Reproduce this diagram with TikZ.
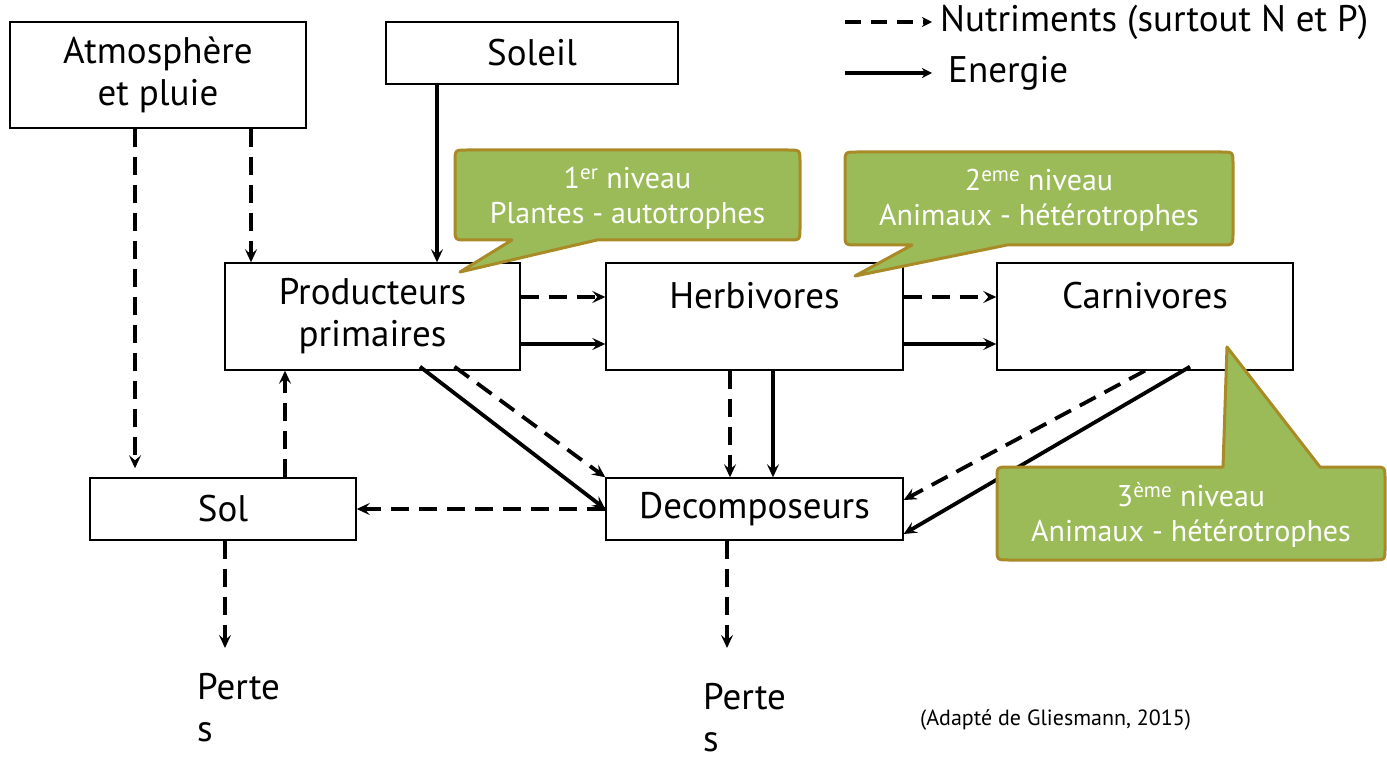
\documentclass[tikz,border=0pt]{standalone}
\usepackage{fontspec}
\setmainfont{PT Sans}
\usetikzlibrary{arrows.meta,calc}
\definecolor{calloutfill}{RGB}{155,187,89}
\definecolor{calloutline}{RGB}{168,138,38}
\tikzset{
  box/.style={draw, line width=1.4pt, inner sep=0pt, align=center,
    font=\fontsize{37}{42}\selectfont},
  flow/.style={line width=3.8pt, -{Stealth[length=13pt,width=12pt,inset=5pt]}},
  nut/.style={flow, dash pattern=on 18pt off 10pt},
  energy/.style={flow},
  callout/.style={fill=calloutfill, draw=calloutline, line width=3pt, line join=round},
  callouttext/.style={text=white, align=center, font=\fontsize{30}{35}\selectfont},
  plain/.style={align=left, inner sep=0pt, font=\fontsize{37}{42}\selectfont},
}
\begin{document}
\begin{tikzpicture}[x=1pt, y=-1pt]
\useasboundingbox (0,0) rectangle (1387,759);

% boxes
\node[box, minimum width=296pt, minimum height=106pt] (atm) at (158,75) {Atmosphère\\et pluie};
\node[box, minimum width=292pt, minimum height=62pt] (sun) at (532,53) {Soleil};
\node[box, minimum width=295pt, minimum height=107pt] (prod) at (372.5,316.5) {Producteurs\\primaires};
\node[box, minimum width=297pt, minimum height=107pt] (herb) at (754.5,316.5) {Herbivores\\\mbox{}};
\node[box, minimum width=296pt, minimum height=107pt] (carn) at (1145,316.5) {Carnivores\\\mbox{}};
\node[box, minimum width=266pt, minimum height=62pt] (sol) at (223,509) {Sol};
\node[box, minimum width=297pt, minimum height=62pt] (dec) at (754.5,509) {Decomposeurs};

% losses
\node[plain, anchor=north west, text depth=0pt] (pertesA) at (197,673) {Perte\\s};
\node[plain, anchor=north west, text depth=0pt] (pertesB) at (703,683) {Perte\\s};

% rows of the horizontal links
\coordinate (rowN) at (0,297);
\coordinate (rowE) at (0,344);

% nutrient flows
\draw[nut, shorten >=9pt] ([xshift=-23pt]atm.south) -- ([xshift=-23pt]atm.south |- sol.north);
\draw[nut] ([xshift=93pt]atm.south) -- ([xshift=93pt]atm.south |- prod.north);
\draw[nut] (prod.east |- rowN) -- (herb.west |- rowN);
\draw[nut] (herb.east |- rowN) -- (carn.west |- rowN);
\draw[nut] ([xshift=82pt,yshift=4pt]prod.south) -- (dec.north west);
\draw[nut] ([xshift=-24.5pt]herb.south) -- ([xshift=-24.5pt]herb.south |- dec.north);
\draw[nut] (carn.south) -- ($(dec.east)+(0,-9)$);
\draw[nut] (dec.west) -- (sol.east);
\draw[nut] ([xshift=62pt]sol.north) -- ([xshift=62pt]sol.north |- prod.south);
\draw[nut] ([xshift=2pt]sol.south) -- ([xshift=2pt]sol.south |- 0,648);
\draw[nut] ([xshift=-27.5pt]dec.south) -- ([xshift=-27.5pt]dec.south |- 0,648);

% energy flows
\draw[energy] ([xshift=-95pt]sun.south) -- ([xshift=-95pt]sun.south |- prod.north);
\draw[energy] (prod.east |- rowE) -- (herb.west |- rowE);
\draw[energy] (herb.east |- rowE) -- (carn.west |- rowE);
\draw[energy] ([xshift=47.5pt,yshift=4pt]prod.south) -- (dec.west);
\draw[energy] ([xshift=18.5pt]herb.south) -- ([xshift=18.5pt]herb.south |- dec.north);
\draw[energy] ([xshift=45pt,yshift=4pt]carn.south) -- ($(dec.east)+(0,25)$);

% legend
\node[plain, anchor=west] (legN) at (940,22) {Nutriments (surtout N et P)};
\node[plain, anchor=west] (legE) at (948,73) {Energie};
\coordinate (legNs) at (845,22);
\coordinate (legEs) at (845,73);
\draw[line width=3.6pt, dash pattern=on 16pt off 10pt, -{Stealth[length=10pt,width=10pt,inset=3pt]}] (legNs) -- ([xshift=-8pt]legN.west);
\draw[line width=3.6pt, -{Stealth[length=10pt,width=10pt,inset=3pt]}] (legEs) -- ([xshift=-16pt]legE.west);

% source
\node[font=\fontsize{22}{26}\selectfont, anchor=west, inner sep=0pt] (src) at (920,720) {(Adapté de Gliesmann, 2015)};

% trophic level callouts
\draw[callout] (512,240) -- (460,272) -- (597,240) -- (788,240) .. controls (800,240) .. (800,228)
  -- (800,162) .. controls (800,150) .. (788,150) -- (467,150) .. controls (455,150) .. (455,162)
  -- (455,228) .. controls (455,240) .. (467,240) -- cycle;
\node[callouttext] (lvl1) at (627.5,198) {1\textsuperscript{er} niveau\\Plantes - autotrophes};

\draw[callout] (912,245) -- (855,276) -- (1007,245) -- (1221,245) .. controls (1233,245) .. (1233,233)
  -- (1233,164) .. controls (1233,152) .. (1221,152) -- (857,152) .. controls (845,152) .. (845,164)
  -- (845,233) .. controls (845,245) .. (857,245) -- cycle;
\node[callouttext] (lvl2) at (1039,200) {2\textsuperscript{eme} niveau\\Animaux - hétérotrophes};

\draw[callout] (1320,467) -- (1227,347) -- (1223,467) -- (1009,467) .. controls (997,467) .. (997,479)
  -- (997,548) .. controls (997,560) .. (1009,560) -- (1373,560) .. controls (1385,560) .. (1385,548)
  -- (1385,479) .. controls (1385,467) .. (1373,467) -- cycle;
\node[callouttext] (lvl3) at (1191,515) {3\textsuperscript{ème} niveau\\Animaux - hétérotrophes};
\end{tikzpicture}
\end{document}
